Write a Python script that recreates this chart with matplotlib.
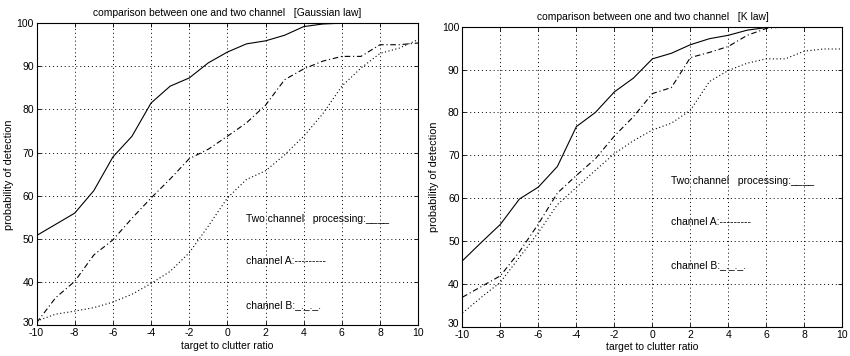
import matplotlib
matplotlib.use("Agg")
import matplotlib.pyplot as plt
import matplotlib.transforms as mtransforms

plt.rcParams["font.family"] = ["Liberation Sans", "DejaVu Sans"]
plt.rcParams["axes.unicode_minus"] = False

# ===========================
# Data
# ===========================
snr = [-10, -9, -8, -7, -6, -5, -4, -3, -2, -1, 0, 1, 2, 3, 4, 5, 6, 7, 8, 9, 10]

# Gaussian law
gauss_two = [50.8, 53.4, 56.0, 61.2, 69.0, 73.8, 81.5, 85.4, 87.3, 90.8, 93.3,
             95.2, 95.9, 97.2, 99.2, 99.8, 100, 100, 100, 100, 100]
gauss_a = [30.6, 36.4, 40.2, 46.3, 49.8, 54.8, 59.5, 63.9, 68.6, 70.8, 73.8,
           76.9, 81.0, 86.9, 89.4, 91.2, 92.3, 92.3, 95.0, 95.0, 95.4]
gauss_b = [31.0, 32.6, 33.3, 34.1, 35.4, 37.2, 39.7, 42.5, 46.8, 53.0, 59.5,
           63.8, 65.8, 69.5, 73.8, 79.0, 85.4, 89.6, 93.0, 94.2, 96.2]

# K law
k_two = [45.4, 49.7, 53.9, 59.8, 62.6, 67.4, 76.7, 80.0, 84.8, 88.0, 92.5,
         93.8, 95.8, 97.2, 98.0, 99.2, 99.8, 100, 100, 100, 100]
k_a = [36.9, 39.4, 41.9, 47.5, 54.0, 61.2, 65.3, 69.2, 74.5, 79.0, 84.4,
       85.8, 92.8, 94.0, 95.4, 98.0, 99.6, 100, 100, 100, 100]
k_b = [33.2, 36.9, 40.4, 46.2, 52.0, 58.5, 62.5, 66.5, 70.4, 73.4, 75.9,
       77.5, 80.5, 87.2, 89.8, 91.5, 92.5, 92.5, 94.3, 94.8, 94.8]

titles = ["comparison between one and two channel   [Gaussian law]",
          "comparison between one and two channel   [K law]"]
xticks = [-10, -8, -6, -4, -2, 0, 2, 4, 6, 8, 10]
yticks = [30, 40, 50, 60, 70, 80, 90, 100]
legend_lines = ["Two channel   processing:____", "channel A:---------", "channel B:_._._."]
legend_y = [[54.6, 44.8, 34.6], [64.1, 54.5, 44.5]]

fig = plt.figure(figsize=(8.5, 3.56), dpi=100)
ax1 = fig.add_axes([0.043, 0.086, 0.449, 0.849])
ax2 = fig.add_axes([0.544, 0.082, 0.447, 0.843])

series = [(gauss_two, gauss_a, gauss_b), (k_two, k_a, k_b)]

for i, ax in enumerate([ax1, ax2]):
    two, a, b = series[i]
    ax.plot(snr, two, "-", color="black", linewidth=0.8)
    ax.plot(snr, a, color="black", linewidth=0.8, linestyle=(0, (5, 2.5, 1, 2.5)))
    ax.plot(snr, b, color="black", linewidth=0.8, linestyle=(0, (1, 2.2)))

    ax.set_xlim(-10, 10)
    ax.set_ylim(30, 100)
    ax.set_xticks(xticks)
    ax.set_yticks(yticks)
    ax.tick_params(direction="in", length=3, width=0.6, labelsize=7.5,
                   top=True, right=True, pad=2)
    ax.grid(True, linestyle=(0, (1, 3)), linewidth=0.7, color="black")
    for s in ax.spines.values():
        s.set_linewidth(0.8)

    ax.set_title(titles[i], fontsize=7.4, pad=5)
    ax.set_xlabel("target to clutter ratio", fontsize=7.5, labelpad=2)
    ax.set_ylabel("probability of detection", fontsize=7.8, labelpad=2)

    for txt, yv in zip(legend_lines, legend_y[i]):
        ax.text(1.0, yv, txt, fontsize=7.5, va="center", ha="left")

    # lift the "30" label a little, as in the original, so it clears "-10"
    lab = ax.get_yticklabels()[0]
    lab.set_transform(lab.get_transform() +
                      mtransforms.ScaledTranslation(0, 2.5 / 72, fig.dpi_scale_trans))

fig.savefig("out.png", dpi=100)
